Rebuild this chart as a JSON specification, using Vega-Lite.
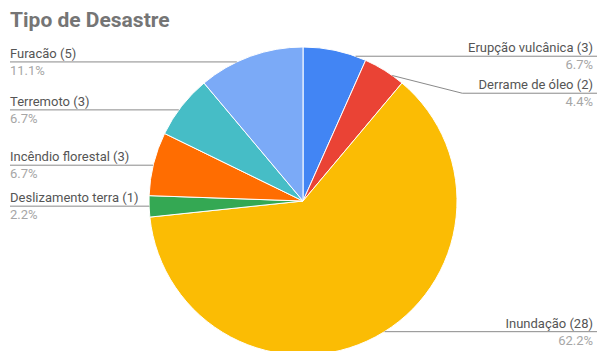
{
  "$schema": "https://vega.github.io/schema/vega-lite/v6.json",
  "width": 606,
  "height": 402,
  "autosize": {"type": "none"},
  "padding": 0,
  "background": "white",
  "config": {"view": {"stroke": null}, "font": "Roboto"},
  "title": {
    "text": "Tipo de Desastre",
    "anchor": "start",
    "frame": "group",
    "orient": "top",
    "offset": 0,
    "baseline": "alphabetic",
    "dx": 10,
    "dy": 48,
    "fontSize": 21,
    "fontWeight": "bold",
    "font": "Roboto",
    "color": "#757575"
  },
  "data": {
    "values": [
      {"tipo": "Erupção vulcânica", "n": 3, "ordem": 1},
      {"tipo": "Derrame de óleo", "n": 2, "ordem": 2},
      {"tipo": "Inundação", "n": 28, "ordem": 3},
      {"tipo": "Deslizamento terra", "n": 1, "ordem": 4},
      {"tipo": "Incêndio florestal ", "n": 3, "ordem": 5},
      {"tipo": "Terremoto", "n": 3, "ordem": 6},
      {"tipo": "Furacão", "n": 5, "ordem": 7}
    ]
  },
  "transform": [
    {"joinaggregate": [{"op": "sum", "field": "n", "as": "total"}]},
    {"window": [{"op": "sum", "field": "n", "as": "cum"}], "sort": [{"field": "ordem"}], "frame": [null, 0]},
    {"calculate": "(datum.cum - datum.n / 2) / datum.total * 2 * PI", "as": "ang"},
    {"calculate": "sin(datum.ang) > 0 ? 1 : -1", "as": "s"},
    {"calculate": "148 * cos(datum.ang)", "as": "ay"},
    {"calculate": "datum.s * sqrt(max(0, 154 * 154 - datum.ay * datum.ay))", "as": "ex"},
    {"window": [{"op": "lag", "field": "ay", "as": "prev"}], "groupby": ["s"], "sort": [{"field": "ordem"}]},
    {"calculate": "datum.prev == null ? datum.ay : (datum.s > 0 ? min(datum.ay, datum.prev - 37) : max(datum.ay, datum.prev + 37))", "as": "ly"},
    {"calculate": "datum.ly == datum.ay ? datum.ex : datum.ex + datum.s * 70", "as": "bx"},
    {"calculate": "datum.s > 0 ? 290 : -293", "as": "tx"},
    {"calculate": "datum.s > 0 ? 300 : -293", "as": "lx"},
    {"calculate": "datum.tipo + ' (' + datum.n + ')'", "as": "nome"},
    {"calculate": "format(datum.n / datum.total, '.1%')", "as": "pct"}
  ],
  "layer": [
    {
      "mark": {"type": "arc", "outerRadius": 154, "stroke": "white", "strokeWidth": 1},
      "encoding": {
        "theta": {"field": "n", "type": "quantitative", "stack": true},
        "order": {"field": "ordem", "type": "quantitative"},
        "color": {
          "field": "tipo",
          "type": "nominal",
          "legend": null,
          "scale": {
            "domain": ["Erupção vulcânica", "Derrame de óleo", "Inundação", "Deslizamento terra", "Incêndio florestal ", "Terremoto", "Furacão"],
            "range": ["#4285F4", "#EA4335", "#FBBC04", "#34A853", "#FF6D01", "#46BDC6", "#7BAAF7"]
          }
        }
      }
    },
    {
      "mark": {"type": "rule", "color": "#8a8a8a", "strokeWidth": 1},
      "encoding": {
        "x": {"field": "lx", "type": "quantitative", "axis": null, "scale": {"domain": [-303, 303], "nice": false, "zero": false}},
        "x2": {"field": "bx"},
        "y": {"field": "ly", "type": "quantitative", "axis": null, "scale": {"domain": [-201, 201], "nice": false, "zero": false}}
      }
    },
    {
      "mark": {"type": "rule", "color": "#8a8a8a", "strokeWidth": 1},
      "encoding": {
        "x": {"field": "bx", "type": "quantitative", "axis": null, "scale": {"domain": [-303, 303], "nice": false, "zero": false}},
        "x2": {"field": "ex"},
        "y": {"field": "ly", "type": "quantitative", "axis": null, "scale": {"domain": [-201, 201], "nice": false, "zero": false}},
        "y2": {"field": "ay"}
      }
    },
    {
      "transform": [{"filter": "datum.s < 0"}],
      "mark": {"type": "text", "align": "left", "baseline": "alphabetic", "dy": -4, "fontSize": 13, "font": "Roboto", "color": "#555555"},
      "encoding": {
        "x": {"field": "tx", "type": "quantitative", "axis": null, "scale": {"domain": [-303, 303], "nice": false, "zero": false}},
        "y": {"field": "ly", "type": "quantitative", "axis": null, "scale": {"domain": [-201, 201], "nice": false, "zero": false}},
        "text": {"field": "nome"}
      }
    },
    {
      "transform": [{"filter": "datum.s < 0"}],
      "mark": {"type": "text", "align": "left", "baseline": "alphabetic", "dy": 13, "fontSize": 13, "font": "Roboto", "color": "#a6a6a6"},
      "encoding": {
        "x": {"field": "tx", "type": "quantitative", "axis": null, "scale": {"domain": [-303, 303], "nice": false, "zero": false}},
        "y": {"field": "ly", "type": "quantitative", "axis": null, "scale": {"domain": [-201, 201], "nice": false, "zero": false}},
        "text": {"field": "pct"}
      }
    },
    {
      "transform": [{"filter": "datum.s > 0"}],
      "mark": {"type": "text", "align": "right", "baseline": "alphabetic", "dy": -4, "fontSize": 13, "font": "Roboto", "color": "#555555"},
      "encoding": {
        "x": {"field": "tx", "type": "quantitative", "axis": null, "scale": {"domain": [-303, 303], "nice": false, "zero": false}},
        "y": {"field": "ly", "type": "quantitative", "axis": null, "scale": {"domain": [-201, 201], "nice": false, "zero": false}},
        "text": {"field": "nome"}
      }
    },
    {
      "transform": [{"filter": "datum.s > 0"}],
      "mark": {"type": "text", "align": "right", "baseline": "alphabetic", "dy": 13, "fontSize": 13, "font": "Roboto", "color": "#a6a6a6"},
      "encoding": {
        "x": {"field": "tx", "type": "quantitative", "axis": null, "scale": {"domain": [-303, 303], "nice": false, "zero": false}},
        "y": {"field": "ly", "type": "quantitative", "axis": null, "scale": {"domain": [-201, 201], "nice": false, "zero": false}},
        "text": {"field": "pct"}
      }
    }
  ]
}
